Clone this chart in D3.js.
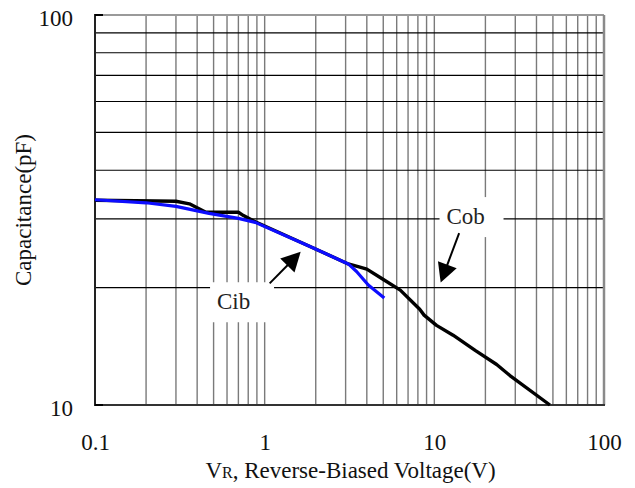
<!DOCTYPE html>
<html>
<head>
<meta charset="utf-8">
<script src="https://cdn.jsdelivr.net/npm/d3@7"></script>
<style>
  html, body { margin: 0; padding: 0; background: #fff; }
  svg { display: block; font-family: "Liberation Serif", "Times New Roman", serif; }
</style>
</head>
<body>
<svg id="chart" width="635" height="488"></svg>
<script>
// ---- data ----
const cobVoltage = [0.1, 0.3, 0.36, 0.45, 0.7, 0.75, 0.88, 1.85, 3.11, 3.6, 4.0, 4.9, 6.3, 8.2, 8.7, 10.3, 12.9, 17.4, 23.3, 27.9, 48];
const cobCap     = [33.5, 33.3, 32.8, 31.2, 31.2, 30.6, 29.5, 25.5, 23.0, 22.6, 22.3, 21.1, 19.7, 17.6, 17.0, 16.0, 15.1, 13.8, 12.7, 11.9, 10.0];
const cibVoltage = [0.1, 0.2, 0.3, 0.47, 0.7, 0.88, 1.85, 3.11, 3.48, 4.08, 5.07];
const cibCap     = [33.6, 33.0, 32.3, 31.0, 30.1, 29.4, 25.5, 23.0, 22.0, 20.3, 18.8];
const xTickLabels = [0.1, 1, 10, 100];
const yTickLabels = [10, 100];
// annotations: label anchor and arrow (tail -> tip), in data units
const cibLabel = {text: "Cib", v: 0.524, c: 17.6, tail: [1.07, 20.5], tip: [1.63, 24.7]};
const cobLabel = {text: "Cob", v: 11.8, c: 29.1, tail: [14.0, 27.6], tip: [10.9, 20.6]};

// ---- layout ----
const svg = d3.select("#chart");
const L = 95, R = 604, T = 15, B = 405;
const x = d3.scaleLog().domain([0.1, 100]).range([L, R]);
const y = d3.scaleLog().domain([10, 100]).range([B, T]);

// gridlines
const xMinor = x.ticks().filter(v => v > 0.1 + 1e-9 && v < 100 - 1e-9);
const yMinor = y.ticks().filter(v => v > 10 + 1e-9 && v < 100 - 1e-9);

svg.append("g").selectAll("line").data(xMinor).join("line")
  .attr("x1", d => x(d)).attr("x2", d => x(d))
  .attr("y1", T).attr("y2", B)
  .attr("stroke", "#7a7a7a").attr("stroke-width", 1.4);

svg.append("g").selectAll("line").data(yMinor).join("line")
  .attr("x1", L).attr("x2", R)
  .attr("y1", d => y(d)).attr("y2", d => y(d))
  .attr("stroke", "#000").attr("stroke-width", 1.1);

// label boxes (white) covering grid
const fontSize = 23;
function labelBox(lbl) {
  const px = x(lbl.v), py = y(lbl.c);
  svg.append("rect")
    .attr("x", px - 7).attr("y", py - 27)
    .attr("width", 64).attr("height", 40)
    .attr("fill", "#fff");
}
labelBox(cibLabel);
labelBox(cobLabel);

// frame
svg.append("line").attr("x1", L).attr("x2", R).attr("y1", T).attr("y2", T)
  .attr("stroke", "#9a9a9a").attr("stroke-width", 2);
svg.append("line").attr("x1", R).attr("x2", R).attr("y1", T).attr("y2", B)
  .attr("stroke", "#8a8a8a").attr("stroke-width", 2.5);
svg.append("line").attr("x1", L).attr("x2", R + 1).attr("y1", B).attr("y2", B)
  .attr("stroke", "#333").attr("stroke-width", 2);
svg.append("line").attr("x1", L).attr("x2", L).attr("y1", T - 1).attr("y2", B + 1)
  .attr("stroke", "#222").attr("stroke-width", 2);
// inward major ticks on y axis
svg.append("g").selectAll("line").data(yTickLabels).join("line")
  .attr("x1", L).attr("x2", L + 8)
  .attr("y1", d => y(d)).attr("y2", d => y(d))
  .attr("stroke", "#000").attr("stroke-width", 2);

// axes labels
const xAxis = svg.append("g").attr("transform", `translate(0,${B})`)
  .call(d3.axisBottom(x).tickValues(xTickLabels).tickSize(0).tickPadding(29)
    .tickFormat(d => String(d)));
xAxis.select(".domain").remove();
xAxis.selectAll("text").attr("font-size", fontSize).attr("font-family", "Liberation Serif").attr("fill", "#111");

const yAxis = svg.append("g").attr("transform", `translate(${L},0)`)
  .call(d3.axisLeft(y).tickValues(yTickLabels).tickSize(0).tickPadding(22)
    .tickFormat(d => String(d)));
yAxis.select(".domain").remove();
yAxis.selectAll("text").attr("font-size", fontSize).attr("font-family", "Liberation Serif").attr("fill", "#111").attr("dy", "0.45em");

// axis titles
const xt = svg.append("text")
  .attr("x", (L + R) / 2 + 1).attr("y", 478)
  .attr("text-anchor", "middle").attr("font-size", fontSize).attr("fill", "#111");
xt.append("tspan").text("V");
xt.append("tspan").attr("font-size", 16).text("R");
xt.append("tspan").text(", Reverse-Biased Voltage(V)");

svg.append("text")
  .attr("transform", `translate(31,${(T + B) / 2}) rotate(-90)`)
  .attr("text-anchor", "middle").attr("font-size", fontSize).attr("fill", "#111")
  .text("Capacitance(pF)");

// series
const line = d3.line().x(d => x(d[0])).y(d => y(d[1]));
const cobData = d3.zip(cobVoltage, cobCap);
const cibData = d3.zip(cibVoltage, cibCap);

svg.append("path").datum(cobData).attr("d", line)
  .attr("fill", "none").attr("stroke", "#000").attr("stroke-width", 3.4)
  .attr("stroke-linejoin", "round");
svg.append("path").datum(cibData).attr("d", line)
  .attr("fill", "none").attr("stroke", "#0d0dff").attr("stroke-width", 3.2)
  .attr("stroke-linejoin", "round");

// annotations
function annotate(lbl) {
  const tx = x(lbl.tail[0]), ty = y(lbl.tail[1]);
  const hx = x(lbl.tip[0]), hy = y(lbl.tip[1]);
  const dx = hx - tx, dy = hy - ty, len = Math.hypot(dx, dy);
  const ux = dx / len, uy = dy / len;
  const headLen = 19, halfW = 10;
  const bx = hx - ux * headLen, by = hy - uy * headLen;
  svg.append("line").attr("x1", tx).attr("y1", ty).attr("x2", bx + ux * 2).attr("y2", by + uy * 2)
    .attr("stroke", "#000").attr("stroke-width", 2);
  svg.append("path")
    .attr("d", `M${hx},${hy} L${bx - uy * halfW},${by + ux * halfW} L${bx + uy * halfW},${by - ux * halfW} Z`)
    .attr("fill", "#000");
  svg.append("text").attr("x", x(lbl.v)).attr("y", y(lbl.c))
    .attr("font-size", fontSize).attr("fill", "#222").text(lbl.text);
}
annotate(cibLabel);
annotate(cobLabel);
</script>
</body>
</html>
